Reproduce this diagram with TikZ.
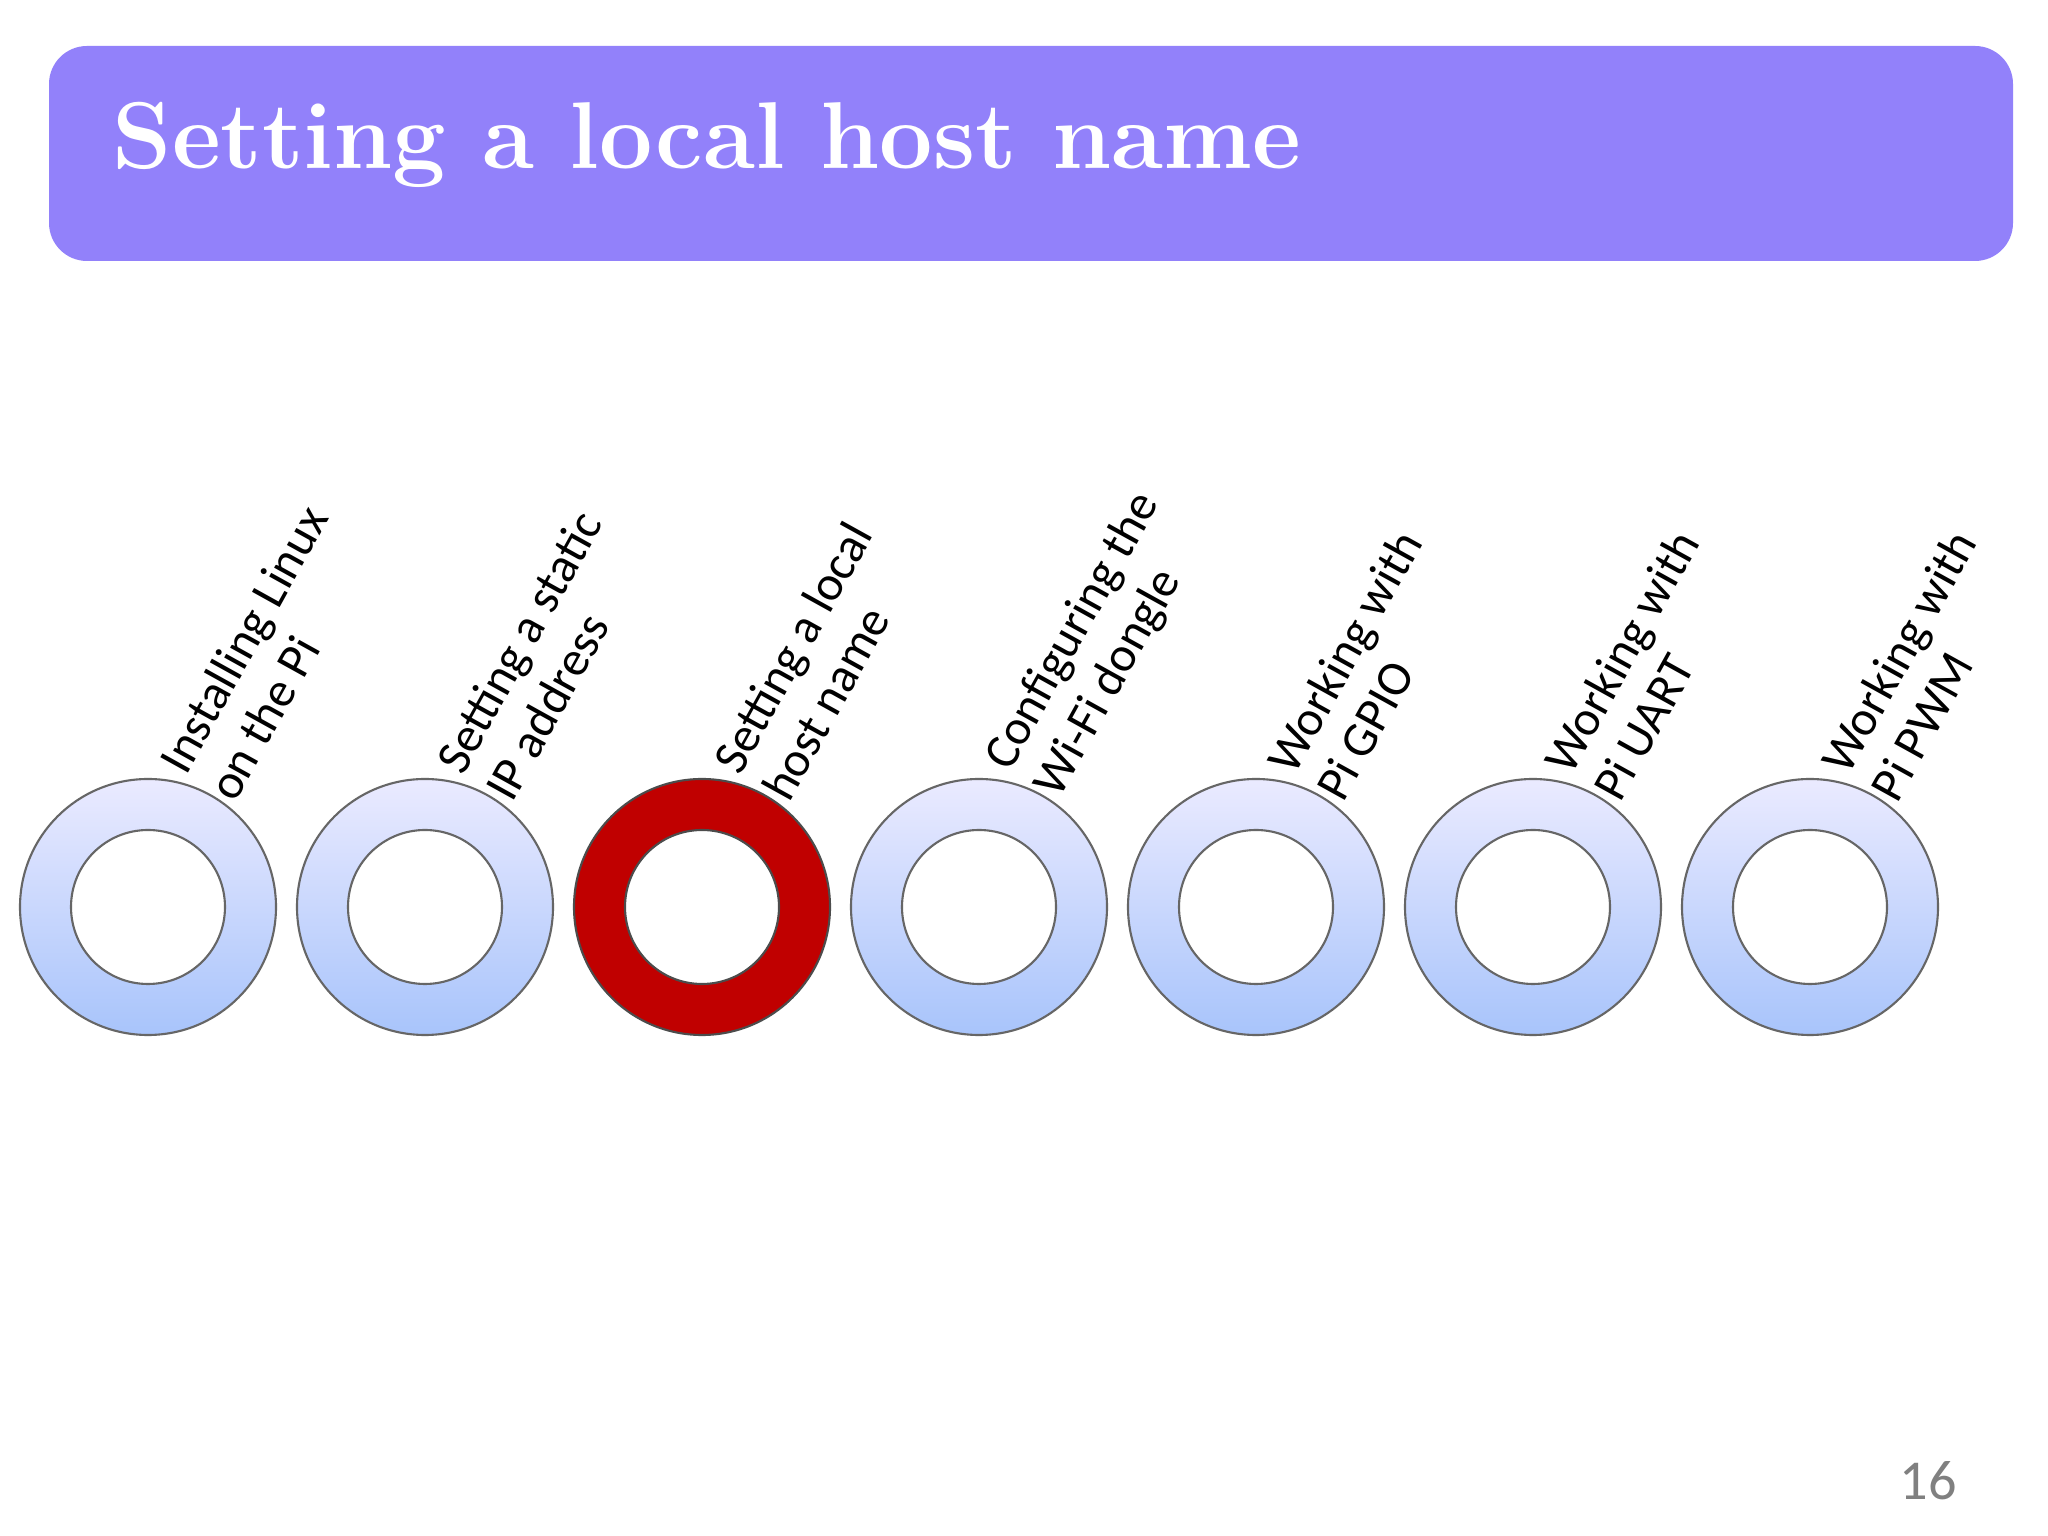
\documentclass[tikz,border=0pt]{standalone}
\usepackage{fontspec}
\newfontfamily\carl{Carlito}
\definecolor{headc}{RGB}{146,129,250}
\definecolor{ringbot}{RGB}{168,196,251}
\definecolor{activec}{RGB}{192,0,0}
\begin{document}
\begin{tikzpicture}[x=0.01cm,y=0.01cm,
  ringstyle/.style={draw=gray!80!black,line width=0.6pt,even odd rule,top color=blue!8!white,bottom color=ringbot},
  activering/.style={draw=gray!60!black,line width=0.6pt,even odd rule,fill=activec},
  lbl/.style={rotate=61,anchor=south west,align=left,font=\carl\fontsize{14}{16}\selectfont,inner sep=0pt}]
\useasboundingbox (0,0) rectangle (2048,1536);
\fill[white] (0,0) rectangle (2048,1536);
\fill[headc,rounded corners=0.38cm] (49,1275) rectangle (2013,1490);
\node[anchor=base west,text=white,font=\bfseries\fontsize{27}{32}\selectfont,inner sep=0pt] (title) at (112,1367) {Setting a local host name};
\foreach \i/\t [count=\k from 0] in {{Installing Linux\\on the Pi},{Setting a static\\IP address},{Setting a local\\host name},{Configuring the\\Wi-Fi dongle},{Working with\\Pi GPIO},{Working with\\Pi UART},{Working with\\Pi PWM}}{
  \pgfmathsetmacro\cx{148+277*\k}
  \ifnum\k=2
    \path[activering] (\cx,629) circle (128) (\cx,629) circle (77);
  \else
    \path[ringstyle] (\cx,629) circle (128) (\cx,629) circle (77);
  \fi
  \coordinate (ring\k) at (\cx,629);
  \node[lbl] (lab\k) at ([shift={(88,102)}]ring\k) {\t};
}
\node[text=gray,font=\carl\fontsize{16}{18}\selectfont] (pg) at (1928,55) {16};
\end{tikzpicture}
\end{document}
